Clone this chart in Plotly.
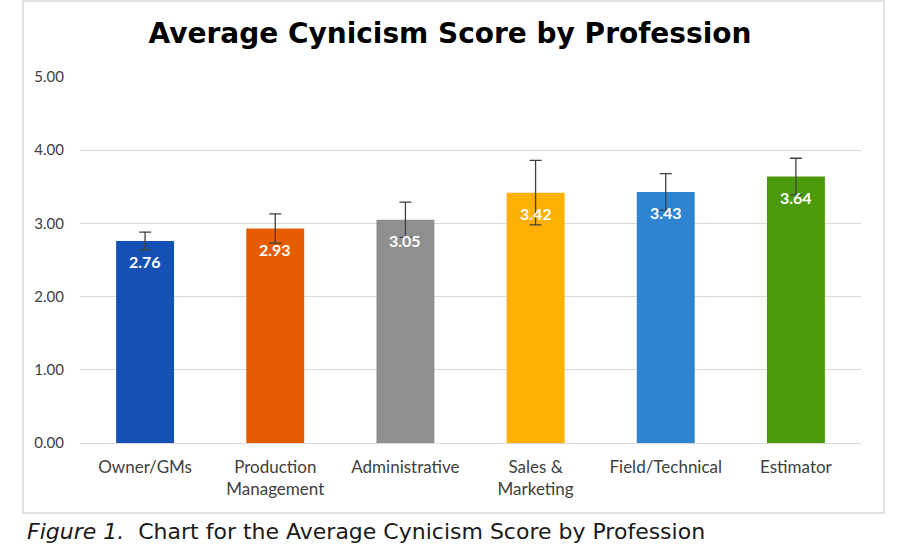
import plotly.graph_objects as go

categories = ["Owner/GMs", "Production<br>Management", "Administrative",
              "Sales &<br>Marketing", "Field/Technical", "Estimator"]
scores = [2.76, 2.93, 3.05, 3.42, 3.43, 3.64]
errors = [0.12, 0.20, 0.24, 0.44, 0.25, 0.25]
colors = ["#1550B5", "#E65C00", "#8F8F8F", "#FFB000", "#2E84D0", "#4A9A0A"]
y_ticks = [0, 1, 2, 3, 4, 5]

W, H = 900, 550
L, R, T, B = 80, 39, 77, 107
pw, ph = W - L - R, H - T - B

def px_x(x):
    return (x - L) / pw

def px_y(y):
    return (H - B - y) / ph

fig = go.Figure(go.Bar(
    x=categories, y=scores,
    marker=dict(color=colors, line=dict(width=0)),
    error_y=dict(type="data", array=errors, visible=True,
                 color="#404040", thickness=1.3, width=6),
    cliponaxis=False,
    hoverinfo="skip",
))

for c, v in zip(categories, scores):
    fig.add_annotation(x=c, y=v, yshift=-21, yanchor="middle", showarrow=False,
                       text=f"<b>{v:.2f}</b>",
                       font=dict(family="Lato", size=16, color="white"))

fig.update_layout(
    width=W, height=H,
    margin=dict(l=L, r=R, t=T, b=B, autoexpand=False),
    paper_bgcolor="white", plot_bgcolor="white",
    bargap=0.555,
    showlegend=False,
    title=dict(text="<b>Average Cynicism Score by Profession</b>",
               x=0.5, xanchor="center", xref="container",
               y=1 - 33 / H, yanchor="middle", yref="container",
               font=dict(family="DejaVu Sans", size=28, color="black")),
    xaxis=dict(showgrid=False, showline=False, ticks="", ticklabelstandoff=12,
               tickfont=dict(family="Lato", size=17, color="#404040")),
    yaxis=dict(range=[0, 5], tickvals=y_ticks, tickformat=".2f",
               showgrid=True, gridcolor="#D9D9D9", gridwidth=1.2,
               zeroline=True, zerolinecolor="#D9D9D9", zerolinewidth=1.2,
               showline=False, ticks="", ticklabelstandoff=15,
               tickfont=dict(family="Lato", size=15, color="#404040")),
)

fig.add_shape(type="rect", xref="paper", yref="paper",
              x0=px_x(23), x1=px_x(884), y0=px_y(513), y1=px_y(1),
              line=dict(color="#D9D9D9", width=1.5), fillcolor="rgba(0,0,0,0)")

fig.add_annotation(xref="paper", yref="paper", x=px_x(25), y=px_y(531),
                   xanchor="left", yanchor="middle", showarrow=False,
                   text="<i>Figure 1.</i>  Chart for the Average Cynicism Score by Profession",
                   font=dict(family="DejaVu Sans", size=22, color="#1a1a1a"))

fig.write_html("out.html", config={"displayModeBar": False},
               post_script="document.body.style.margin='0';document.body.style.overflow='hidden';")
